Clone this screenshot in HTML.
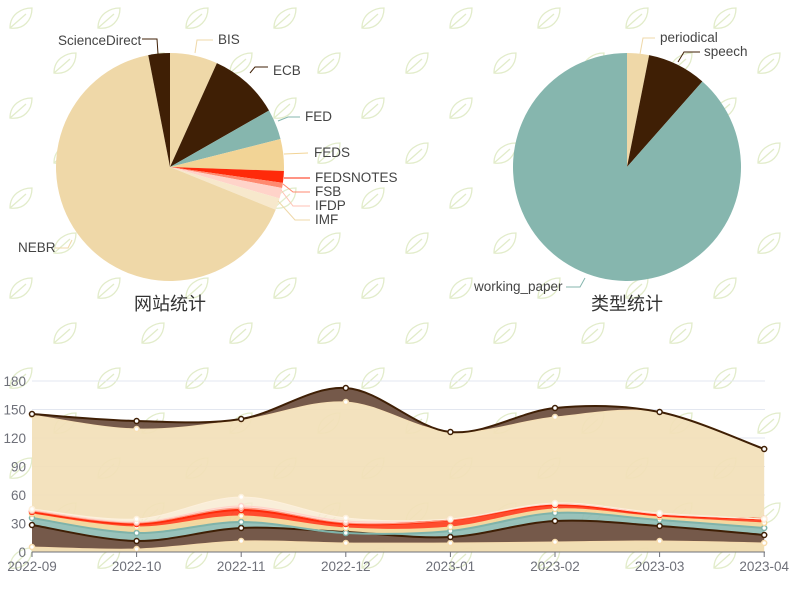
<!DOCTYPE html>
<html><head><meta charset="utf-8"><style>
html,body{margin:0;padding:0;background:#fff;}
svg{display:block;font-family:"Liberation Sans","Noto Sans CJK SC",sans-serif;}
</style></head><body>
<svg id="s" width="799" height="589" viewBox="0 0 799 589" xmlns="http://www.w3.org/2000/svg">
<defs>
<pattern id="leaf" width="88" height="90" patternUnits="userSpaceOnUse">
<g fill="none" stroke="#e2ecca" stroke-width="1.3">
<path d="M10 28 C10 14 22 8 32 8 C32 20 24 30 10 28 Z M10 28 L26 14"/>
<path d="M54 73 C54 59 66 53 76 53 C76 65 68 75 54 73 Z M54 73 L70 59"/>
</g>
</pattern>
</defs>
<rect width="799" height="589" fill="url(#leaf)"/>
<g id="grid" stroke="#e3e7f0" stroke-width="1"></g>
<g id="pies"></g>
<g id="area"></g>
<g id="labels" font-size="13.5" fill="#444"></g>
<text x="170" y="310" font-size="18" text-anchor="middle" fill="#333">网站统计</text>
<text x="627" y="310" font-size="18" text-anchor="middle" fill="#333">类型统计</text>
</svg>
<script>
(function(){
var NS="http://www.w3.org/2000/svg";
function el(p,t,a,txt){var e=document.createElementNS(NS,t);for(var k in a)e.setAttribute(k,a[k]);if(txt)e.textContent=txt;document.getElementById(p).appendChild(e);return e;}
function slice(cx,cy,r,a0,a1,col){var r0=(a0-90)*Math.PI/180,r1=(a1-90)*Math.PI/180;
var d="M"+cx+" "+cy+"L"+(cx+r*Math.cos(r0))+" "+(cy+r*Math.sin(r0))+"A"+r+" "+r+" 0 "+((a1-a0)>180?1:0)+" 1 "+(cx+r*Math.cos(r1))+" "+(cy+r*Math.sin(r1))+"Z";
el("pies","path",{d:d,fill:col});}
var pie1=[[0,24.3,"#efd8a8"],[24.3,60.3,"#3f1f05"],[60.3,75.8,"#86b6ae"],[75.8,92,"#f2d496"],[92,98,"#ff2a0a"],[98,100.6,"#ff8a70"],[100.6,106,"#ffd3c9"],[106,112,"#f7e8cc"],[112,349,"#efd8a8"],[349,360,"#3f1f05"]];
pie1.forEach(function(s){slice(170,167,114,s[0],s[1],s[2]);});
var pie2=[[0,11.2,"#efd8a8"],[11.2,41.4,"#3f1f05"],[41.4,360,"#86b6ae"]];
pie2.forEach(function(s){slice(627,167,114,s[0],s[1],s[2]);});
var labs=[["ScienceDirect",58,45,"start","#3f1f05","M158 54L157 39L142 39"],
["BIS",218,44,"start","#efd8a8","M195 53L197 40L213 40"],
["ECB",273,75,"start","#3f1f05","M250 73L255 67L268 67"],
["FED",305,121,"start","#86b6ae","M278 121L288 117L300 117"],
["FEDS",314,157,"start","#f2d496","M284 154L308 153"],
["FEDSNOTES",315,182,"start","#ff2a0a","M284 178L310 178"],
["FSB",315,196,"start","#ff8a70","M283 184L293 192L310 192"],
["IFDP",315,210,"start","#ffc2b5","M281 190L293 206L310 206"],
["IMF",315,224,"start","#efd8a8","M278 201L295 220L310 220"],
["NEBR",18,252,"start","#efd8a8","M72 240L68 248L55 248"],
["periodical",660,42,"start","#efd8a8","M640 54L643 38L655 38"],
["speech",704,56,"start","#3f1f05","M678 62L684 52L700 52"],
["working_paper",474,291,"start","#86b6ae","M585 278L580 287L566 287"]];
labs.forEach(function(l){el("labels","path",{d:l[5],stroke:l[4],fill:"none","stroke-width":1});el("labels","text",{x:l[1],y:l[2],"text-anchor":l[3]},l[0]);});
var y0=552,sc=171/180;
for(var v=0;v<=180;v+=30){var yy=y0-v*sc;if(v>0)el("grid","line",{x1:32,x2:765,y1:yy,y2:yy});el("labels","text",{x:26,y:yy+5,"text-anchor":"end",fill:"#6e7079"},String(v));}
var xs=[],months=["2022-09","2022-10","2022-11","2022-12","2023-01","2023-02","2023-03","2023-04"];
for(var i=0;i<8;i++){xs.push(32+i*104.6);}
var Ls=[[547,549,541,543,543,542,541,543],[525,541,528,532,537,521,526,535],[518,533,522,533,531,513,520,528],[514,527,516,528,527,509,517,523],[512,524,510,524,520,505,515,519],[511,523,508,523,520,504,514,519],[510,522,506,521,519,504,514,519],[509,519,497,518,519,503,513,519],[415,429,420,402,432,417,412,449],[414,421,419,388,432,408,412,449]];
var fills=["#f0dcb0","#6e5040","#8dbbb2","#f2d496","#ff3a18","#ff9a82","#ffd6cc","#f8ead0","#f2dfb8","#6e5040"];
var op=[0.95,0.95,0.9,0.9,0.9,0.8,0.8,0.8,0.92,0.95];
function curve(ys,rev){var pts=xs.map(function(x,i){return [x,ys[i]];});if(rev)pts.reverse();
var d="";for(var i=0;i<pts.length-1;i++){var a=pts[Math.max(i-1,0)],b=pts[i],c=pts[i+1],e=pts[Math.min(i+2,pts.length-1)];
var c1=[b[0]+(c[0]-a[0])/6,b[1]+(c[1]-a[1])/6],c2=[c[0]-(e[0]-b[0])/6,c[1]-(e[1]-b[1])/6];
d+="C"+c1[0]+" "+c1[1]+" "+c2[0]+" "+c2[1]+" "+c[0]+" "+c[1];}
return {start:pts[0],d:d};}
for(var k=0;k<Ls.length;k++){var tp=curve(Ls[k],false);var bt=k==0?null:curve(Ls[k-1],true);
var d="M"+tp.start[0]+" "+tp.start[1]+tp.d;
if(bt)d+="L"+bt.start[0]+" "+bt.start[1]+bt.d;else d+="L"+xs[7]+" "+y0+"L"+xs[0]+" "+y0;
d+="Z";el("area","path",{d:d,fill:fills[k],"fill-opacity":op[k]});}
var lineCols=[["#f7dcae",1],["#3f1f05",2],["#7fb3aa",2],["#f7d79a",1],["#ff2a0a",2],["#ff9a82",1],["#ffd3c9",1],["#fdf0dc",1],["#f7e0b6",1],["#3f1f05",2]];
for(var k=0;k<Ls.length;k++){var cc=curve(Ls[k],false);el("area","path",{d:"M"+cc.start[0]+" "+cc.start[1]+cc.d,fill:"none",stroke:lineCols[k][0],"stroke-width":lineCols[k][1]});
for(var i=0;i<8;i++)el("area","circle",{cx:xs[i],cy:Ls[k][i],r:2.5,fill:"#fff",stroke:lineCols[k][0],"stroke-width":1.5});}
el("area","line",{x1:32,x2:765,y1:y0,y2:y0,stroke:"#6e7079"});
for(var i=0;i<8;i++){el("area","line",{x1:xs[i],x2:xs[i],y1:y0,y2:y0+5,stroke:"#6e7079"});el("labels","text",{x:xs[i],y:571,"text-anchor":"middle",fill:"#6e7079"},months[i]);}
})();
</script>
</body></html>
